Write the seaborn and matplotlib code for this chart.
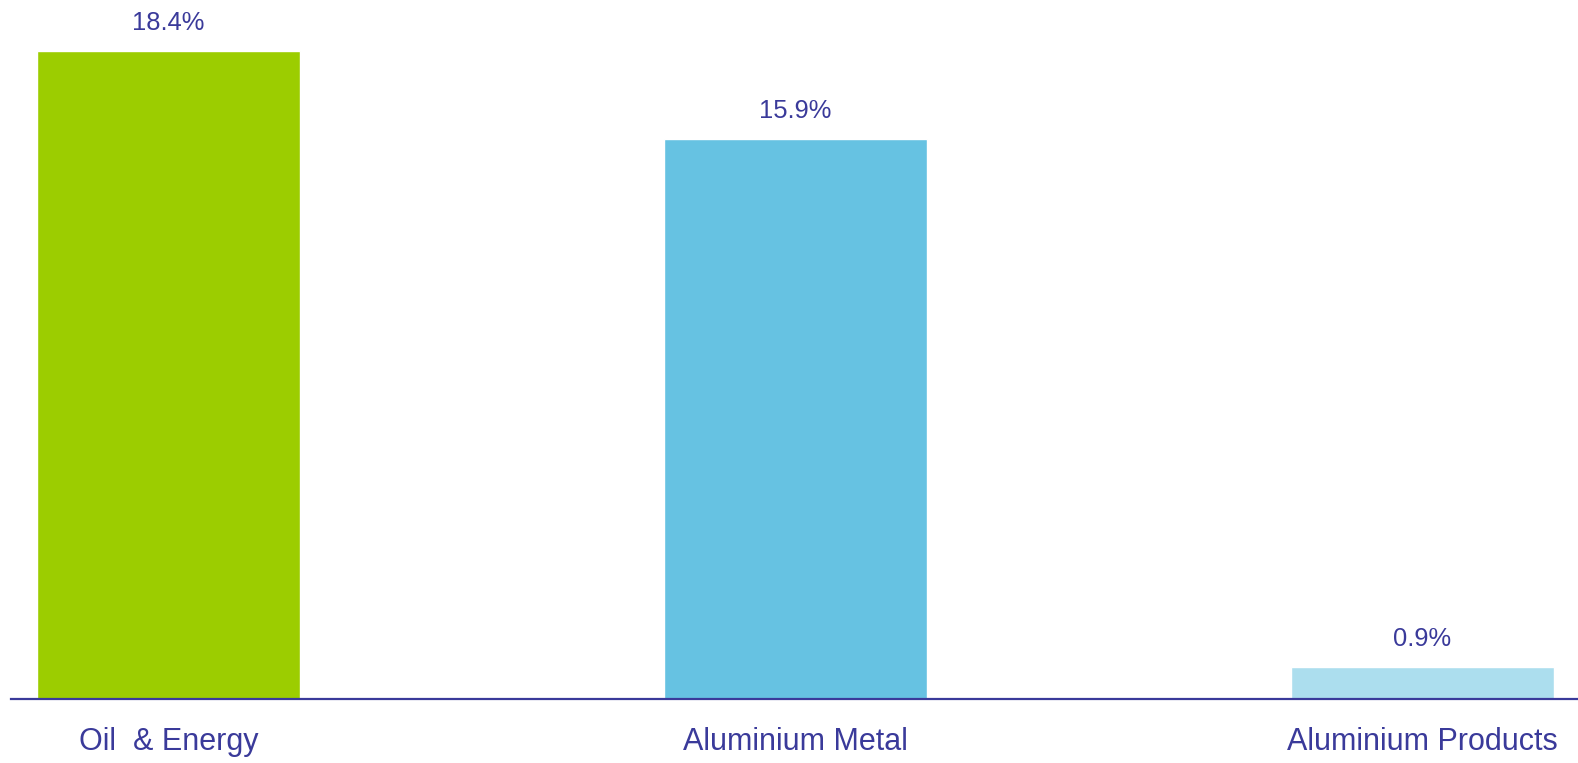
import matplotlib
matplotlib.use("Agg")
import matplotlib.pyplot as plt
import seaborn as sns
import pandas as pd

categories = ["Oil  & Energy", "Aluminium Metal", "Aluminium Products"]
values = [18.4, 15.9, 0.9]
value_labels = ["18.4%", "15.9%", "0.9%"]
bar_colors = ["#9ccd00", "#66c2e2", "#acdeee"]

text_color = "#3a3a9a"

sns.set_style("white")
plt.rcParams["font.family"] = ["Liberation Sans", "DejaVu Sans"]

df = pd.DataFrame({"segment": categories, "share": values})

fig = plt.figure(figsize=(15.78, 7.63), dpi=100)
ax = fig.add_axes([11 / 1578, 1 - 699 / 763, 1 - 11 / 1578, 699 / 763])

sns.barplot(data=df, x="segment", y="share", hue="segment",
            palette=bar_colors, width=0.42, saturation=1,
            legend=False, ax=ax)

for patch, lab in zip(ax.patches, value_labels):
    x = patch.get_x() + patch.get_width() / 2
    ax.annotate(lab, (x, patch.get_height()), xytext=(0, 12),
                textcoords="offset points", ha="center", va="bottom",
                fontsize=18.4, color=text_color)

ax.set_xlim(-0.251, 2.248)
ax.set_ylim(0, 19.86)
ax.set_xlabel("")
ax.set_ylabel("")
ax.set_yticks([])
for side in ["top", "right", "left"]:
    ax.spines[side].set_visible(False)
ax.spines["bottom"].set_color(text_color)
ax.spines["bottom"].set_linewidth(1.6)
ax.tick_params(axis="x", length=0, pad=20, labelsize=22, labelcolor=text_color)
ax.patch.set_alpha(0)

fig.savefig("out.png", dpi=100, facecolor="white")
